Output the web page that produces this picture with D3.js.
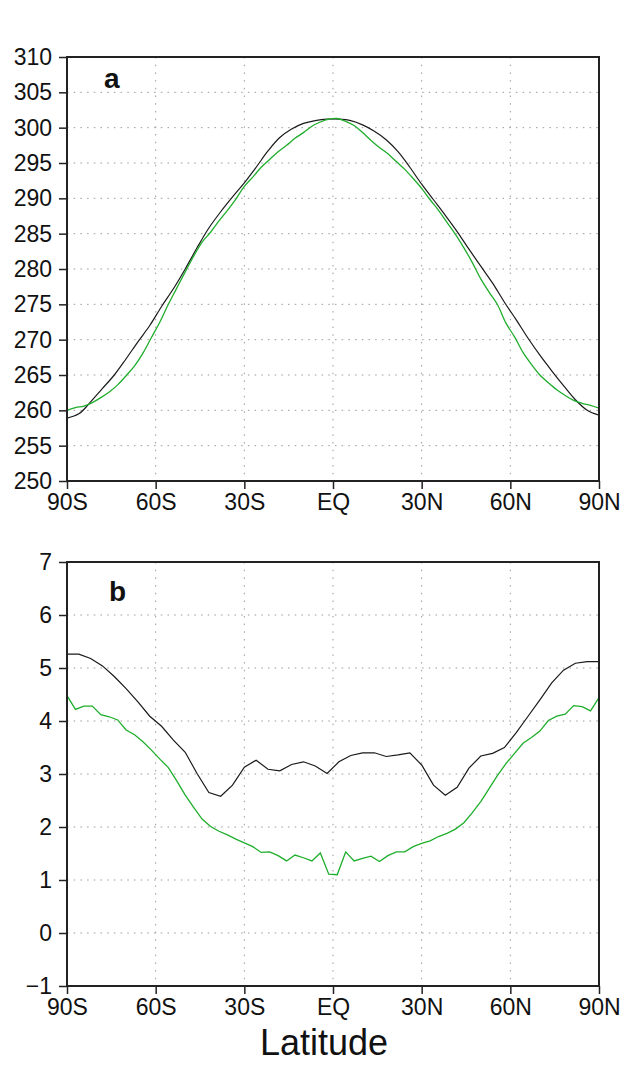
<!DOCTYPE html>
<html><head><meta charset="utf-8">
<script src="https://cdn.jsdelivr.net/npm/d3@7"></script>
<style>
html,body{margin:0;padding:0;background:#fff;}
svg{display:block;}
text{font-family:"Liberation Sans",Arial,sans-serif;fill:#111;}
</style></head>
<body>
<svg id="c" width="621" height="1065"></svg>
<script>
// ---------- data ----------
const xTickValues = [-90, -60, -30, 0, 30, 60, 90];
const xTickLabels = ["90S", "60S", "30S", "EQ", "30N", "60N", "90N"];
const yTicksA = [250, 255, 260, 265, 270, 275, 280, 285, 290, 295, 300, 305, 310];
const yTicksB = [-1, 0, 1, 2, 3, 4, 5, 6, 7];
const yTickLabelsB = ["\u22121", "0", "1", "2", "3", "4", "5", "6", "7"];

// black series: 4-degree latitudes
const latBlack = [-90,-86,-82,-78,-74,-70,-66,-62,-58,-54,-50,-46,-42,-38,-34,-30,-26,-22,-18,-14,-10,-6,-2,
                  2,6,10,14,18,22,26,30,34,38,42,46,50,54,58,62,66,70,74,78,82,86,90];
// green series: 64 latitudes, 180/63 degree spacing
const latGreen = [-90,-87.14,-84.29,-81.43,-78.57,-75.71,-72.86,-70,-67.14,-64.29,-61.43,-58.57,-55.71,-52.86,-50,-47.14,
                  -44.29,-41.43,-38.57,-35.71,-32.86,-30,-27.14,-24.29,-21.43,-18.57,-15.71,-12.86,-10,-7.14,-4.29,-1.43,
                  1.43,4.29,7.14,10,12.86,15.71,18.57,21.43,24.29,27.14,30,32.86,35.71,38.57,41.43,44.29,
                  47.14,50,52.86,55.71,58.57,61.43,64.29,67.14,70,72.86,75.71,78.57,81.43,84.29,87.14,90];

// panel a
const aBlack = [258.9,259.5,261.2,263.1,265.0,267.3,269.7,272.0,274.7,277.2,280.0,283.0,285.8,288.1,290.2,292.2,294.4,296.7,298.6,299.8,300.6,301.0,301.2,
                301.2,301.0,300.4,299.5,298.3,296.6,294.4,292.0,289.8,287.6,285.3,282.8,280.4,278.0,275.3,272.8,270.2,267.8,265.6,263.5,261.5,260.0,259.3];
const aGreen = [260.0,260.4,260.6,261.1,261.8,262.6,263.6,264.9,266.3,268.1,270.3,272.5,275.0,277.3,279.6,281.8,
                283.8,285.2,286.8,288.3,289.9,291.7,293.0,294.4,295.5,296.6,297.5,298.5,299.3,300.2,300.8,301.2,
                301.3,300.9,300.3,299.3,298.2,297.2,296.3,295.2,294.1,292.8,291.4,289.8,288.3,286.6,284.9,283.0,
                280.9,278.6,276.7,274.9,272.3,270.4,268.2,266.5,265.0,263.9,262.9,262.1,261.4,261.0,260.7,260.3];
// panel b
const bBlack = [5.26,5.26,5.18,5.04,4.84,4.61,4.36,4.09,3.90,3.64,3.41,3.01,2.65,2.58,2.79,3.13,3.26,3.09,3.06,3.18,3.23,3.15,3.01,
                3.23,3.35,3.40,3.40,3.33,3.36,3.40,3.17,2.79,2.60,2.75,3.11,3.34,3.39,3.50,3.78,4.09,4.40,4.72,4.96,5.09,5.12,5.12];
const bGreen = [4.48,4.22,4.28,4.28,4.12,4.08,4.02,3.83,3.74,3.61,3.45,3.28,3.12,2.87,2.60,2.37,
                2.15,2.01,1.92,1.85,1.77,1.70,1.63,1.52,1.53,1.46,1.36,1.47,1.42,1.36,1.51,1.11,
                1.10,1.53,1.36,1.41,1.45,1.35,1.46,1.53,1.53,1.63,1.69,1.74,1.82,1.88,1.96,2.08,
                2.27,2.48,2.73,2.98,3.20,3.39,3.58,3.69,3.81,4.01,4.09,4.13,4.29,4.27,4.19,4.44];

// ---------- drawing ----------
const svg = d3.select("#c");
const L = 67, R = 599;
const x = d3.scaleLinear().domain([-90, 90]).range([L, R]);
const FS = 23;
const GREEN = "#1fae2c", BLACK = "#1a1a1a", GRID = "#9a9a9a";

function panel(o) {
  const y = d3.scaleLinear().domain(o.domain).range([o.bottom, o.top]);
  const g = svg.append("g");
  // grid
  g.selectAll(".gh").data(o.yTicks.slice(1, -1)).join("line")
    .attr("x1", L).attr("x2", R).attr("y1", d => y(d)).attr("y2", d => y(d))
    .attr("stroke", GRID).attr("stroke-width", 1).attr("stroke-dasharray", "1.5,5.2");
  g.selectAll(".gv").data(xTickValues.slice(1, -1)).join("line")
    .attr("y1", o.top).attr("y2", o.bottom).attr("x1", d => x(d)).attr("x2", d => x(d))
    .attr("stroke", GRID).attr("stroke-width", 1).attr("stroke-dasharray", "1.5,6.2");
  // lines
  const line = (lats) => d3.line().x((d, i) => x(lats[i])).y(d => y(d)).curve(o.curve);
  g.append("path").datum(o.black).attr("d", line(latBlack))
    .attr("fill", "none").attr("stroke", BLACK).attr("stroke-width", 1.2);
  g.append("path").datum(o.green).attr("d", line(latGreen))
    .attr("fill", "none").attr("stroke", GREEN).attr("stroke-width", 1.3);
  // axes
  const ay = g.append("g").attr("transform", `translate(${L},0)`)
    .call(d3.axisLeft(y).tickValues(o.yTicks).tickFormat((d, i) => o.yLabels ? o.yLabels[i] : d)
      .tickSize(8).tickPadding(7).tickSizeOuter(0));
  const ax = g.append("g").attr("transform", `translate(0,${o.bottom})`)
    .call(d3.axisBottom(x).tickValues(xTickValues).tickFormat((d, i) => xTickLabels[i])
      .tickSize(8).tickPadding(4.5).tickSizeOuter(0));
  [ay, ax].forEach(a => {
    a.select(".domain").remove();
    a.selectAll("line").attr("stroke", "#222").attr("stroke-width", 1.5);
    a.selectAll("text").attr("font-size", FS).attr("fill", "#111")
      .style("font-family", '"Liberation Sans",Arial,sans-serif');
  });
  // frame
  g.append("rect").attr("x", L).attr("y", o.top).attr("width", R - L).attr("height", o.bottom - o.top)
    .attr("fill", "none").attr("stroke", "#222").attr("stroke-width", 2);
  // panel letter
  g.append("text").attr("x", o.lx).attr("y", o.ly).text(o.letter)
    .attr("font-size", 28).attr("font-weight", "bold");
}

panel({domain: [250, 310], top: 57, bottom: 481, yTicks: yTicksA, black: aBlack, green: aGreen,
       curve: d3.curveCatmullRom, letter: "a", lx: 104, ly: 88});
panel({domain: [-1, 7], top: 562, bottom: 986, yTicks: yTicksB, yLabels: yTickLabelsB, black: bBlack, green: bGreen,
       curve: d3.curveLinear, letter: "b", lx: 109, ly: 601});

svg.append("text").attr("x", 324).attr("y", 1055).attr("text-anchor", "middle")
  .attr("font-size", 36).text("Latitude");
</script>
</body></html>
